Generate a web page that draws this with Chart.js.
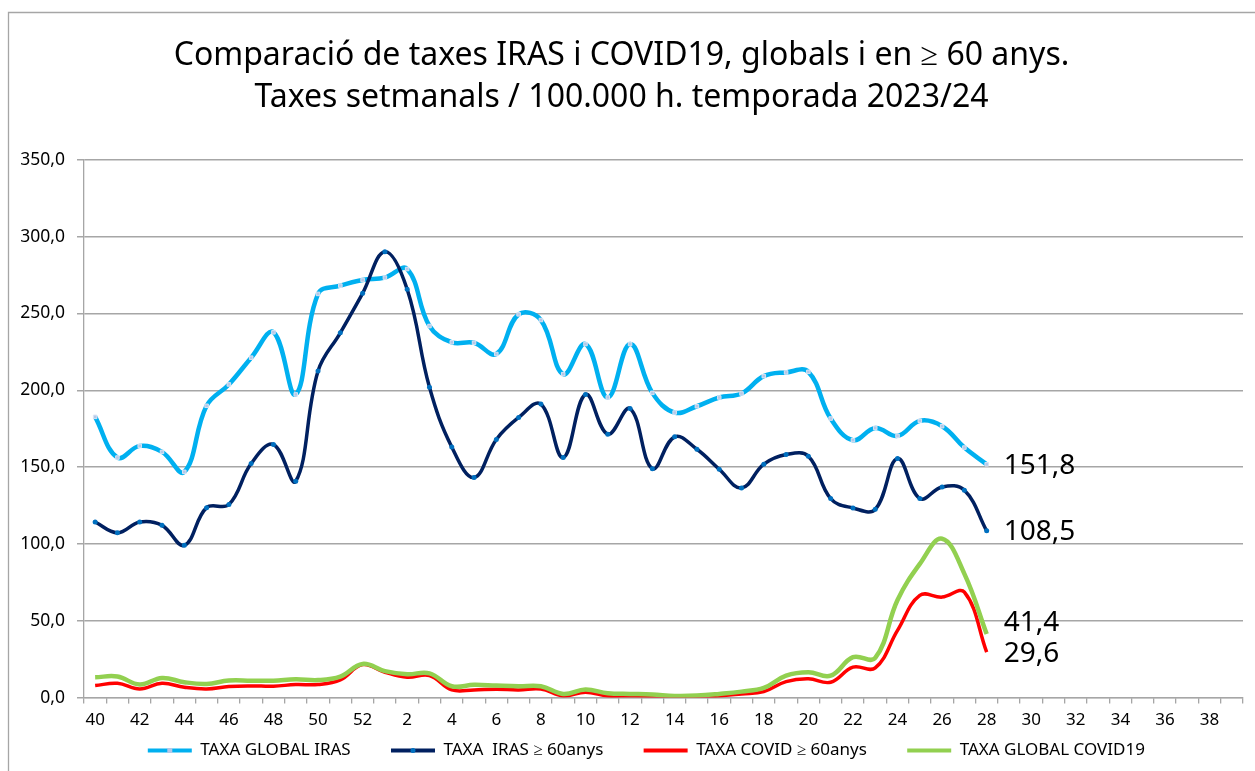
<!DOCTYPE html>
<html>
<head>
<meta charset="utf-8">
<script src="https://cdn.jsdelivr.net/npm/chart.js@4.4.0/dist/chart.umd.min.js"></script>
<style>
html, body { margin: 0; padding: 0; background: #fff; }
#wrap { position: relative; width: 1255px; height: 771px; }
</style>
</head>
<body>
<div id="wrap"><canvas id="lineChart"></canvas></div>
<script>
// setmanes epidemiològiques 40/2023 - 39/2024
var weeks = ["40","41","42","43","44","45","46","47","48","49","50","51","52",
  "1","2","3","4","5","6","7","8","9","10","11","12","13","14","15","16","17","18","19",
  "20","21","22","23","24","25","26","27","28","29","30","31","32","33","34","35","36","37","38","39"];

var yTicks = [0, 50, 100, 150, 200, 250, 300, 350];

var globalIras = [182.7, 156.2, 163.8, 159.9, 146.9, 189.9, 203.8, 221.2, 237.7, 197.3, 262.7, 268.1, 271.8,
  273.3, 278.9, 241.8, 231.2, 230.9, 223.6, 249.4, 245.7, 210.5, 230.1, 195.3, 230.1, 198.3, 185.5, 189.6,
  195.3, 197.9, 209.2, 211.6, 212.0, 181.6, 167.5, 175.5, 170.3, 180.1, 176.6, 162.7, 151.8];

var iras60 = [114.3, 107.3, 114.3, 112.1, 99.1, 123.6, 125.6, 152.3, 164.7, 140.8, 212.5, 237.4, 263.1,
  290.2, 265.7, 201.9, 163.1, 143.2, 168.0, 182.3, 191.0, 156.2, 197.3, 171.4, 188.1, 149.0, 169.7, 161.6,
  148.6, 136.4, 151.9, 158.2, 157.1, 129.5, 123.4, 122.5, 155.6, 129.5, 137.1, 134.9, 108.5];

var covid60 = [7.8, 9.3, 5.6, 9.3, 6.7, 5.6, 7.2, 7.6, 7.4, 8.5, 8.5, 11.5, 21.5,
  16.5, 13.2, 14.3, 5.0, 5.0, 5.4, 5.0, 5.6, 1.1, 3.5, 1.1, 1.1, 0.9, 0.2, 0.7,
  1.1, 2.4, 3.9, 10.4, 12.2, 10.0, 19.8, 19.3, 43.7, 66.5, 65.4, 68.6, 29.6];

var covidGlobal = [13.2, 13.7, 8.5, 12.8, 10.0, 8.9, 11.1, 11.0, 11.0, 12.0, 11.4, 13.7, 21.9,
  17.2, 15.2, 15.8, 7.4, 8.3, 7.8, 7.4, 7.4, 2.4, 5.2, 2.8, 2.4, 2.0, 1.1, 1.3,
  2.4, 3.9, 6.3, 14.3, 16.5, 14.3, 26.3, 25.8, 63.5, 87.0, 103.4, 80.5, 41.4];

function fmt(v) {
  return v.toFixed(1).replace('.', ',');
}

// marc gris de l'objecte del full de càlcul
var frame = {
  id: 'frame',
  beforeDraw: function(chart) {
    var ctx = chart.ctx;
    ctx.save();
    ctx.fillStyle = '#fff';
    ctx.fillRect(0, 0, chart.width, chart.height);
    ctx.strokeStyle = '#a6a6a6';
    ctx.lineWidth = 1.3;
    ctx.beginPath();
    ctx.moveTo(8.5, chart.height);
    ctx.lineTo(8.5, 12.5);
    ctx.lineTo(chart.width, 12.5);
    ctx.stroke();
    ctx.restore();
  }
};

// etiqueta amb l'últim valor de cada sèrie
var endLabels = {
  id: 'endLabels',
  afterDatasetsDraw: function(chart) {
    var ctx = chart.ctx;
    ctx.save();
    ctx.font = '28px "Noto Sans"';
    ctx.fillStyle = '#000';
    ctx.textBaseline = 'middle';
    chart.data.datasets.forEach(function(ds, i) {
      var meta = chart.getDatasetMeta(i);
      var n = ds.data.length - 1;
      var pt = meta.data[n];
      ctx.fillText(fmt(ds.data[n]), pt.x + 17, pt.y + ds.endLabelDy);
    });
    ctx.restore();
  }
};

// marcador al mig de la línia de la llegenda
var legendMarkers = {
  id: 'legendMarkers',
  afterDraw: function(chart) {
    var boxes = chart.legend.legendHitBoxes;
    var ctx = chart.ctx;
    ctx.save();
    chart.data.datasets.forEach(function(ds, i) {
      if (!ds.pointRadius) return;
      var hb = boxes[i];
      var cx = hb.left + 22;
      var cy = hb.top + hb.height / 2;
      ctx.fillStyle = ds.pointBackgroundColor;
      if (ds.pointStyle === 'rect') {
        ctx.fillRect(cx - 2.5, cy - 2.5, 5, 5);
      } else {
        ctx.beginPath();
        ctx.arc(cx, cy, 2.5, 0, Math.PI * 2);
        ctx.fill();
      }
    });
    ctx.restore();
  }
};

var ctx = document.getElementById("lineChart");

var data = {
  labels: weeks,
  datasets: [
    {
      label: "TAXA GLOBAL IRAS",
      data: globalIras,
      borderColor: "#00b0f0",
      backgroundColor: "#00b0f0",
      borderWidth: 4.5,
      pointStyle: 'rect',
      pointRadius: 2.5,
      pointBackgroundColor: "#b4c7e7",
      pointBorderColor: "#dae3f3",
      pointBorderWidth: 1,
      tension: 0.4,
      order: 4,
      endLabelDy: 2
    },
    {
      label: "TAXA  IRAS ≥ 60anys",
      data: iras60,
      borderColor: "#002060",
      backgroundColor: "#002060",
      borderWidth: 3.5,
      pointRadius: 2.5,
      pointBackgroundColor: "#0070c0",
      pointBorderColor: "#0070c0",
      pointBorderWidth: 0,
      tension: 0.4,
      order: 3,
      endLabelDy: 1
    },
    {
      label: "TAXA COVID ≥ 60anys",
      data: covid60,
      borderColor: "#ff0000",
      backgroundColor: "#ff0000",
      borderWidth: 3.5,
      pointRadius: 0,
      tension: 0.4,
      order: 2,
      endLabelDy: 2
    },
    {
      label: "TAXA GLOBAL COVID19",
      data: covidGlobal,
      borderColor: "#92d050",
      backgroundColor: "#92d050",
      borderWidth: 4.5,
      pointRadius: 0,
      tension: 0.4,
      order: 1,
      endLabelDy: -11
    }
  ]
};

var options = {
  responsive: true,
  maintainAspectRatio: false,
  animation: false,
  layout: {
    padding: { left: 0, right: 12, top: 0, bottom: 2 }
  },
  plugins: {
    title: {
      display: true,
      text: ["Comparació de taxes IRAS i COVID19, globals i en ≥ 60 anys.",
             "Taxes setmanals / 100.000 h. temporada 2023/24"],
      color: '#000',
      font: { family: '"Noto Sans"', size: 32, weight: 'normal', lineHeight: 1.34 },
      padding: { top: 34, bottom: 40 }
    },
    legend: {
      position: 'bottom',
      fullSize: false,
      labels: {
        color: '#000',
        font: { family: '"Noto Sans"', size: 17 },
        boxWidth: 44,
        boxHeight: 4,
        padding: 6,
        sort: function(a, b) { return a.datasetIndex - b.datasetIndex; },
        generateLabels: function(chart) {
          return chart.data.datasets.map(function(ds, i) {
            return {
              // espai extra entre elements, com a l'original
              text: ds.label + '\u2002\u2002\u2002  ',
              fillStyle: ds.borderColor,
              strokeStyle: ds.borderColor,
              lineWidth: 0,
              datasetIndex: i,
              hidden: false,
              fontColor: '#000'
            };
          });
        }
      }
    },
    tooltip: { enabled: false }
  },
  scales: {
    x: {
      offset: true,
      grid: {
        offset: true,
        drawOnChartArea: false,
        drawTicks: true,
        tickLength: 6,
        color: '#a6a6a6',
        lineWidth: 1.3
      },
      border: { color: '#a6a6a6', width: 1.3 },
      ticks: {
        autoSkip: false,
        maxRotation: 0,
        color: '#000',
        padding: 6,
        font: { family: '"Noto Sans"', size: 17 },
        callback: function(val, i) {
          return i % 2 === 0 ? weeks[i] : '';
        }
      }
    },
    y: {
      min: yTicks[0],
      max: yTicks[yTicks.length - 1],
      afterFit: function(scale) { scale.width = 84; },
      afterBuildTicks: function(scale) {
        scale.ticks = yTicks.map(function(v) { return { value: v }; });
      },
      grid: {
        color: '#a6a6a6',
        lineWidth: 1.5,
        tickLength: 7
      },
      border: { color: '#a6a6a6', width: 1.3 },
      ticks: {
        color: '#000',
        padding: 12,
        font: { family: '"Noto Sans"', size: 17.5 },
        callback: function(v) { return fmt(v); }
      }
    }
  }
};

var lineChart = new Chart(ctx, {
  type: 'line',
  data: data,
  options: options,
  plugins: [frame, endLabels, legendMarkers]
});
</script>
</body>
</html>
